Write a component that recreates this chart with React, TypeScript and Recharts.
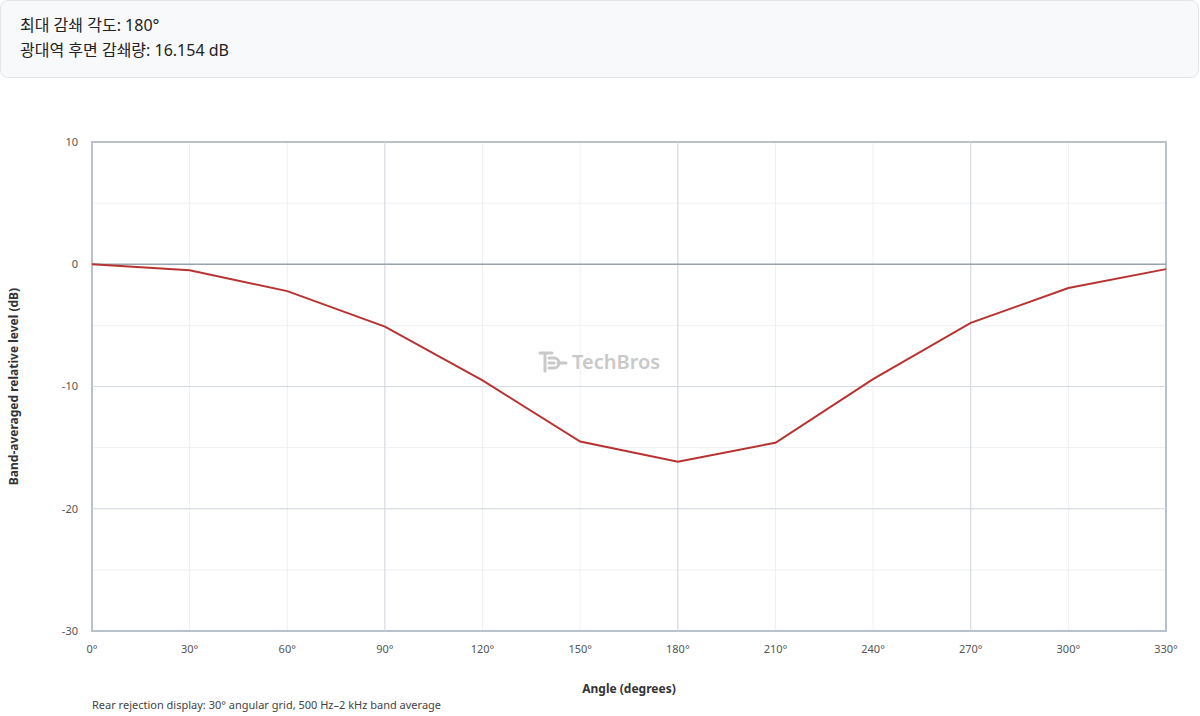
import React from "react";
import {
  LineChart,
  Line,
  XAxis,
  YAxis,
  CartesianGrid,
  ReferenceLine,
  ReferenceArea,
} from "recharts";

const angles = [0, 30, 60, 90, 120, 150, 180, 210, 240, 270, 300, 330];
const levels = [0, -0.5, -2.2, -5.1, -9.5, -14.5, -16.154, -14.6, -9.4, -4.8, -1.95, -0.4];
const yTicks = [-30, -20, -10, 0, 10];
const minorY = [-30, -25, -20, -15, -10, -5, 0, 5, 10];
const majorY = [-20, -10];
const majorX = [90, 180, 270];

const data = angles.map((a, i) => ({ angle: a, level: levels[i] }));

const FONT = '"Segoe UI", "Noto Sans", "Noto Sans CJK KR", sans-serif';

const Watermark = () => (
  <div
    style={{
      position: "absolute",
      left: 538,
      top: 348,
      display: "flex",
      alignItems: "center",
      gap: 4,
      color: "#c9c9c9",
      fontFamily: FONT,
      fontSize: 20,
      fontWeight: 600,
      pointerEvents: "none",
    }}
  >
    <svg width="30" height="24" viewBox="0 0 30 24">
      <path
        d="M2 3 H14 M7 3 V21 M11 8 H16 a5 5 0 0 1 0 10 H11 M11 13 H16 M20 13 H28"
        fill="none"
        stroke="#c9c9c9"
        strokeWidth="3"
        strokeLinecap="round"
      />
    </svg>
    <span>TechBros</span>
  </div>
);

export default function App() {
  return (
    <div style={{ position: "relative", width: 1200, height: 716, fontFamily: FONT }}>
      <style>{`body{margin:0}`}</style>
      <div
        style={{
          position: "absolute",
          left: 0,
          top: 0,
          width: 1199,
          height: 78,
          boxSizing: "border-box",
          border: "1px solid #e2e6eb",
          borderRadius: 8,
          background: "#f8f9fb",
          padding: "12px 19px",
          fontSize: 16,
          lineHeight: "25px",
          color: "#222",
        }}
      >
        <div>최대 감쇄 각도: 180°</div>
        <div>광대역 후면 감쇄량: 16.154 dB</div>
      </div>
      <div style={{ position: "absolute", left: 0, top: 0 }}>
        <LineChart
          width={1200}
          height={716}
          data={data}
          margin={{ top: 142, right: 34, bottom: 55, left: 0 }}
        >
          <CartesianGrid
            stroke="#edf0f4"
            horizontalValues={minorY}
            verticalValues={angles}
          />
          {majorX.map((v) => (
            <ReferenceLine key={"x" + v} x={v} stroke="#d3d9e0" />
          ))}
          {majorY.map((v) => (
            <ReferenceLine key={"y" + v} y={v} stroke="#d3d9e0" />
          ))}
          <ReferenceLine y={0} stroke="#98a3ae" strokeWidth={1.5} />
          <ReferenceArea
            x1={0}
            x2={330}
            y1={-30}
            y2={10}
            fill="none"
            stroke="#b9c1ca"
            strokeWidth={2}
            ifOverflow="visible"
          />
          <XAxis
            dataKey="angle"
            type="number"
            domain={[0, 330]}
            ticks={angles}
            tickFormatter={(v) => `${v}°`}
            axisLine={false}
            tickLine={false}
            height={30}
            tick={{ fontSize: 11, fill: "#555" }}
            tickMargin={8}
            label={{
              value: "Angle (degrees)",
              position: "bottom",
              offset: 23,
              style: { fontSize: 12, fontWeight: 700, fill: "#333" },
            }}
          />
          <YAxis
            type="number"
            domain={[-30, 10]}
            ticks={yTicks}
            axisLine={false}
            tickLine={false}
            width={92}
            tick={{ fontSize: 11, fill: "#555" }}
            tickMargin={8}
            label={{
              value: "Band-averaged relative level (dB)",
              angle: -90,
              position: "insideLeft",
              offset: 14,
              style: { fontSize: 12, fontWeight: 700, fill: "#333", textAnchor: "middle" },
            }}
          />
          <Line
            type="linear"
            dataKey="level"
            stroke="#b83232"
            strokeWidth={2}
            dot={false}
            isAnimationActive={false}
          />
        </LineChart>
      </div>
      <Watermark />
      <div
        style={{
          position: "absolute",
          left: 92,
          top: 697,
          fontSize: 11,
          color: "#444",
        }}
      >
        Rear rejection display: 30° angular grid, 500 Hz–2 kHz band average
      </div>
    </div>
  );
}
